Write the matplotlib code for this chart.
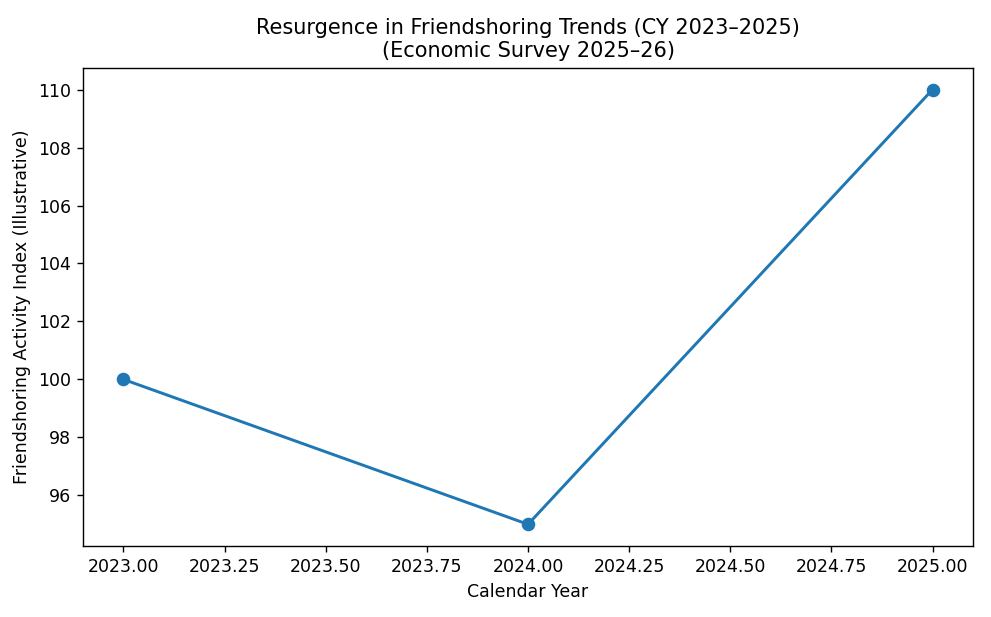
import matplotlib
matplotlib.use("Agg")
import matplotlib.pyplot as plt

years = [2023, 2024, 2025]
index_values = [100, 95, 110]

DPI = 125
fig = plt.figure(figsize=(991/DPI, 617/DPI), dpi=DPI)
ax = fig.add_axes([0.0838, 0.115, 0.898, 0.775])
ax.plot(years, index_values, marker='o', color='#1f77b4', linewidth=1.7, markersize=6.8)
ax.set_title("Resurgence in Friendshoring Trends (CY 2023\u20132025)\n(Economic Survey 2025\u201326)")
ax.set_xlabel("Calendar Year")
ax.set_ylabel("Friendshoring Activity Index (Illustrative)")
fig.savefig("out.png", dpi=DPI)
